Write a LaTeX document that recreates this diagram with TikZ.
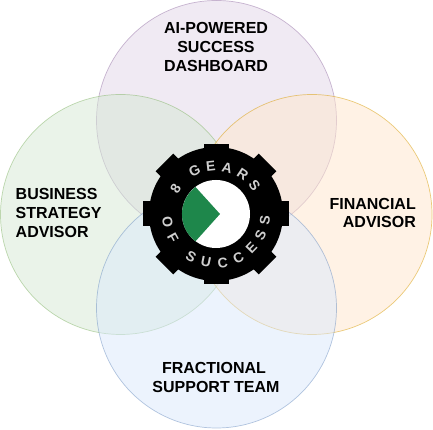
\documentclass[tikz,border=0pt]{standalone}
\usepackage{fontspec}
\setmainfont{Liberation Sans}
\usetikzlibrary{calc, decorations.text}
\definecolor{gearGreen}{HTML}{1E874B}
\definecolor{gearText}{HTML}{CFCFCF}
\tikzset{
    petal/.style={circle, minimum size=240pt, inner sep=0pt, line width=0.7pt, draw opacity=0.5, fill opacity=0.5},
    petalLabel/.style={font=\bfseries\fontsize{16}{18.7}\selectfont, inner sep=0pt},
    gearTooth/.style={fill=black, minimum width=16pt, minimum height=25pt, inner sep=0pt}
}
\begin{document}
\begin{tikzpicture}[x=1pt, y=1pt]
    \useasboundingbox (0, 0) rectangle (433, 430);

    % Four overlapping circles
    \node[petal, draw={rgb,255:red,150;green,115;blue,166}, fill={rgb,255:red,225;green,213;blue,231}] (dashboard) at (216.5, 309.5) {};
    \node[petal, draw={rgb,255:red,130;green,179;blue,102}, fill={rgb,255:red,213;green,232;blue,212}] (strategy) at (120.5, 215.5) {};
    \node[petal, draw={rgb,255:red,215;green,155;blue,0}, fill={rgb,255:red,255;green,230;blue,204}] (financial) at (312, 215.5) {};
    \node[petal, draw={rgb,255:red,108;green,142;blue,191}, fill={rgb,255:red,218;green,232;blue,252}] (support) at (216.5, 122) {};

    % Labels
    \node[petalLabel, align=center] (dashboardLabel) at (216, 383) {AI-POWERED\\SUCCESS\hspace*{4pt}\\DASHBOARD};
    \node[petalLabel, align=left, anchor=west] (strategyLabel) at (15.5, 217) {BUSINESS\\STRATEGY\\ADVISOR};
    \node[petalLabel, align=right, anchor=east] (financialLabel) at (416, 217) {FINANCIAL\\ADVISOR};
    \node[petalLabel, align=center] (supportLabel) at (216, 52.5) {FRACTIONAL\hspace*{4pt}\\SUPPORT TEAM};

    % Gear
    \coordinate (hub) at (216, 216);
    \foreach \angle/\reach in {0/65, 45/65, 90/62, 135/65, 180/65, 225/65, 270/62, 315/65} {
        \node[gearTooth, rotate=\angle] at ($(hub) + (\angle:\reach)$) {};
    }
    \fill[black] (hub) circle (67);
    \fill[white] (hub) circle (34);
    \fill[gearGreen] (hub) ++(4, 0) -- ++(-24.5, 27) arc[start angle=127, end angle=233, radius=34] -- cycle;

    % Ring text
    \path[decorate, decoration={text along path, text align={fit to path},
        text={|\bfseries\fontsize{14}{14}\selectfont\color{gearText}|8 GEARS}}]
        (hub) ++(153:43) arc[start angle=153, end angle=30, radius=43];
    \path[decorate, decoration={text along path, text align={fit to path},
        text={|\bfseries\fontsize{14}{14}\selectfont\color{gearText}|OF SUCCESS}}]
        (hub) ++(184:54) arc[start angle=184, end angle=358, radius=54];
\end{tikzpicture}
\end{document}
